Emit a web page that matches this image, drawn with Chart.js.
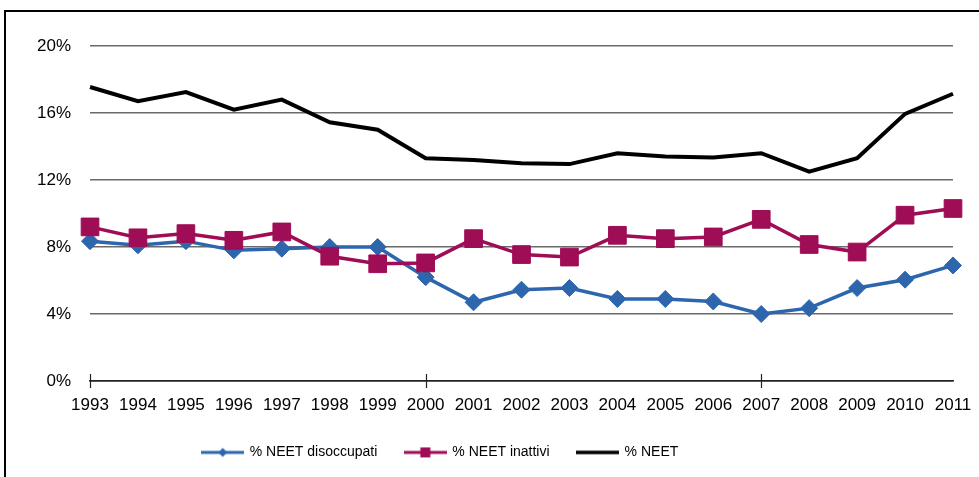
<!DOCTYPE html>
<html>
<head>
<meta charset="utf-8">
<script src="https://cdn.jsdelivr.net/npm/chart.js@4"></script>
<style>
  html, body { margin: 0; padding: 0; background: #fff; overflow: hidden; }
  #frame { position: absolute; left: 4px; top: 10px; width: 1100px; height: 600px;
           border-left: 2.5px solid #000; border-top: 2.5px solid #000; }
  #myChart { position: absolute; left: 0; top: 0; }
</style>
</head>
<body>
<div id="frame"></div>
<canvas id="myChart" width="979" height="477"></canvas>
<script>
var years = ["1993","1994","1995","1996","1997","1998","1999","2000","2001","2002",
             "2003","2004","2005","2006","2007","2008","2009","2010","2011"];
var disoccupati = [8.35,8.1,8.35,7.8,7.9,8.0,8.0,6.2,4.7,5.45,5.55,4.9,4.9,4.75,4.0,4.35,5.55,6.05,6.9];
var inattivi = [9.2,8.55,8.8,8.4,8.9,7.45,7.0,7.05,8.5,7.55,7.4,8.7,8.5,8.6,9.65,8.15,7.7,9.9,10.3];
var neet = [17.55,16.7,17.25,16.2,16.8,15.45,15.0,13.3,13.2,13.0,12.95,13.6,13.4,13.35,13.6,12.5,13.3,15.95,17.15];
var yTicks = [0,4,8,12,16,20];

var blue = "#2d66ad";
var purple = "#9e0d55";

// little line+marker pictures for the legend
function legendIcon(color, marker, lw) {
  var c = document.createElement("canvas");
  c.width = 43; c.height = 14;
  var g = c.getContext("2d");
  g.strokeStyle = color; g.fillStyle = color; g.lineWidth = lw;
  g.beginPath(); g.moveTo(0, 7); g.lineTo(43, 7); g.stroke();
  if (marker == "diamond") {
    g.beginPath(); g.moveTo(21.5, 2.5); g.lineTo(26, 7); g.lineTo(21.5, 11.5); g.lineTo(17, 7); g.closePath(); g.fill();
  } else if (marker == "square") {
    g.fillRect(16.5, 2, 10, 10);
  }
  return c;
}
var icons = [legendIcon(blue, "diamond", 3), legendIcon(purple, "square", 3), legendIcon("#000", null, 3.5)];

var xTicksPlugin = {
  id: "xTicks",
  afterDraw: function(chart) {
    var x = chart.scales.x, y = chart.scales.y, ctx = chart.ctx;
    ctx.save();
    ctx.strokeStyle = "#222"; ctx.lineWidth = 1.2;
    for (var i = 0; i < years.length; i += 7) {
      var px = Math.round(x.getPixelForValue(i)) + 0.5;
      ctx.beginPath(); ctx.moveTo(px, y.bottom - 7); ctx.lineTo(px, y.bottom + 7); ctx.stroke();
    }
    ctx.restore();
  }
};

// legend sits left of centre in the original
var legendShift = {
  id: "legendShift",
  afterLayout: function(chart) {
    var lg = chart.legend;
    lg.left -= 45; lg.right -= 45;
    lg.top -= 12; lg.bottom -= 12;
  }
};

new Chart("myChart", {
  type: "line",
  data: {
    labels: years,
    datasets: [{
      label: "% NEET disoccupati",
      data: disoccupati,
      borderColor: blue,
      backgroundColor: blue,
      borderWidth: 3.5,
      pointStyle: "rectRot",
      pointRadius: 8.5,
      pointBorderWidth: 1,
      order: 2
    }, {
      label: "% NEET inattivi",
      data: inattivi,
      borderColor: purple,
      backgroundColor: purple,
      borderWidth: 3.5,
      pointStyle: "rect",
      pointRadius: 12.5,
      pointBorderWidth: 1,
      order: 1
    }, {
      label: "% NEET",
      data: neet,
      borderColor: "#000",
      backgroundColor: "#000",
      borderWidth: 4,
      pointRadius: 0,
      order: 0
    }]
  },
  plugins: [xTicksPlugin, legendShift],
  options: {
    responsive: false,
    animation: false,
    layout: { padding: { left: 18, right: 26, top: 46, bottom: 0 } },
    scales: {
      x: {
        offset: false,
        grid: { display: false, drawTicks: false },
        border: { color: "#222", width: 1.5 },
        ticks: { color: "#000", padding: 6, autoSkip: false, maxRotation: 0,
                 font: { family: "'Liberation Sans', Arial, sans-serif", size: 17, lineHeight: 2.14 } }
      },
      y: {
        min: 0, max: 20,
        afterBuildTicks: function(axis) { axis.ticks = yTicks.map(function(v) { return { value: v }; }); },
        grid: { drawTicks: false, lineWidth: 1.5,
                color: function(c) { return c.tick && c.tick.value === 0 ? "#222" : "#6a6a6a"; } },
        border: { display: false },
        ticks: { color: "#000", padding: 19,
                 callback: function(v) { return v + "%"; },
                 font: { family: "'Liberation Sans', Arial, sans-serif", size: 17 } }
      }
    },
    plugins: {
      tooltip: { enabled: false },
      legend: {
        position: "bottom",
        maxHeight: 47.6,
        labels: {
          color: "#000",
          usePointStyle: true,
          pointStyleWidth: 40,
          padding: 28,
          font: { family: "'Liberation Sans', Arial, sans-serif", size: 14 },
          sort: function(a, b) { return a.datasetIndex - b.datasetIndex; },
          generateLabels: function(chart) {
            var items = Chart.defaults.plugins.legend.labels.generateLabels(chart);
            items.forEach(function(it) { it.pointStyle = icons[it.datasetIndex]; });
            return items;
          }
        }
      }
    }
  }
});
</script>
</body>
</html>
